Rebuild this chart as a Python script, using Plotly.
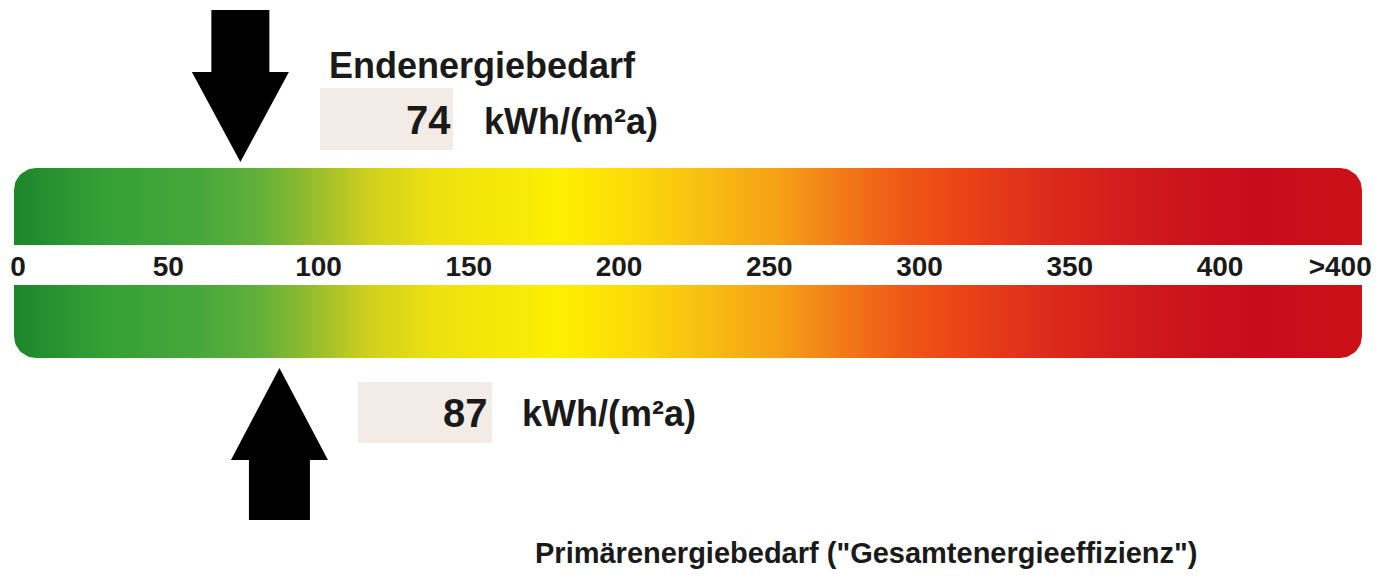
import numpy as np
import plotly.graph_objects as go

# ---------------- data ----------------
scale_ticks = [0, 50, 100, 150, 200, 250, 300, 350, 400, 440]
scale_labels = ["0", "50", "100", "150", "200", "250", "300", "350", "400", ">400"]
end_energy = 74          # Endenergiebedarf kWh/(m²a)
primary_energy = 87      # Primärenergiebedarf kWh/(m²a)
unit_label = "kWh/(m²a)"
end_title = "Endenergiebedarf"
primary_title = 'Primärenergiebedarf ("Gesamtenergieeffizienz")'

# colour ramp of the scale band (fraction along the band, colour)
ramp_pos = [0.0, 0.064, 0.138, 0.182, 0.22, 0.264, 0.309, 0.405, 0.464, 0.509,
            0.568, 0.613, 0.657, 0.702, 0.754, 0.806, 0.865, 0.917, 1.0]
ramp_col = ["#1c862c", "#33a035", "#47a83a", "#62b03a", "#95bc2e", "#d0d01e",
            "#ece010", "#fdef00", "#fbd80a", "#f8c012", "#f5a016", "#f27c18",
            "#ef5a16", "#eb4416", "#e0301a", "#d6201c", "#cc141c", "#c80c1c", "#cc1018"]

# ---------------- layout helpers ----------------
W, H = 1378, 579
X0_PX = 18.0      # pixel of value 0
K = 3.005         # pixels per kWh/(m²a)
x_range = [-X0_PX / K, (W - X0_PX) / K]


def px2v(px):
    return (px - X0_PX) / K


def rounded_band(px0, px1, y0, y1, r, top, bottom, n=16):
    pts = []
    t = lambda a, b: np.linspace(a, b, n)
    if top:
        for a in t(np.pi, 1.5 * np.pi):
            pts.append((px0 + r + r * np.cos(a), y0 + r + r * np.sin(a)))
        for a in t(1.5 * np.pi, 2 * np.pi):
            pts.append((px1 - r + r * np.cos(a), y0 + r + r * np.sin(a)))
    else:
        pts += [(px0, y0), (px1, y0)]
    if bottom:
        for a in t(0, 0.5 * np.pi):
            pts.append((px1 - r + r * np.cos(a), y1 - r + r * np.sin(a)))
        for a in t(0.5 * np.pi, np.pi):
            pts.append((px0 + r + r * np.cos(a), y1 - r + r * np.sin(a)))
    else:
        pts += [(px1, y1), (px0, y1)]
    pts.append(pts[0])
    xs = [px2v(p[0]) for p in pts]
    ys = [p[1] for p in pts]
    return xs, ys


colorscale = [[p, c] for p, c in zip(ramp_pos, ramp_col)]

fig = go.Figure()

# scale bands
for (y0, y1, top, bottom) in [(168, 245, True, False), (285, 358, False, True)]:
    xs, ys = rounded_band(14, 1362, y0, y1, 22, top, bottom)
    fig.add_trace(go.Scatter(
        x=xs, y=ys, mode="lines", fill="toself",
        line=dict(width=0, color="rgba(0,0,0,0)"),
        fillgradient=dict(type="horizontal", colorscale=colorscale),
        hoverinfo="skip", showlegend=False))

FONT = "Arial, Liberation Sans, sans-serif"

# tick labels
fig.add_trace(go.Scatter(
    x=scale_ticks, y=[269] * len(scale_ticks), mode="text", text=scale_labels,
    textposition="middle center",
    textfont=dict(family=FONT, size=28, color="#1a1a1a", weight="bold"),
    hoverinfo="skip", showlegend=False))


def arrow(value, down):
    if down:
        shape = [(-29, 10), (29, 10), (29, 72), (48.5, 72), (0, 162), (-48.5, 72), (-29, 72), (-29, 10)]
    else:
        shape = [(-30.5, 520), (30.5, 520), (30.5, 460), (48.5, 460), (0, 368), (-48.5, 460), (-30.5, 460), (-30.5, 520)]
    xs = [value + dx / K for dx, _ in shape]
    ys = [y for _, y in shape]
    return go.Scatter(x=xs, y=ys, mode="lines", fill="toself", fillcolor="black",
                      line=dict(width=0, color="black"), hoverinfo="skip", showlegend=False)


fig.add_trace(arrow(end_energy, True))
fig.add_trace(arrow(primary_energy, False))

# value boxes
box_fill = "#f3ebe5"
fig.add_shape(type="rect", xref="x", yref="y", x0=px2v(320), x1=px2v(453), y0=88, y1=150,
              fillcolor=box_fill, line=dict(width=0), layer="below")
fig.add_shape(type="rect", xref="x", yref="y", x0=px2v(358), x1=px2v(492), y0=382, y1=443,
              fillcolor=box_fill, line=dict(width=0), layer="below")


def ann(text, px, y, size, anchor):
    fig.add_annotation(x=px2v(px), y=y, xref="x", yref="y", text=text, showarrow=False,
                       xanchor=anchor, yanchor="middle",
                       font=dict(family=FONT, size=size, color="#1a1a1a", weight="bold"))


ann(end_title, 327, 65, 36, "left")
ann(str(end_energy), 453, 120, 40, "right")
ann(unit_label, 482, 121, 36, "left")
ann(str(primary_energy), 490, 413, 40, "right")
ann(unit_label, 520, 413, 36, "left")
ann(primary_title, 533, 553, 29, "left")

fig.update_layout(
    width=W, height=H, margin=dict(l=0, r=0, t=0, b=0),
    paper_bgcolor="white", plot_bgcolor="white",
    xaxis=dict(range=x_range, visible=False, fixedrange=True),
    yaxis=dict(range=[H, 0], visible=False, fixedrange=True),
    hovermode=False, showlegend=False,
)

fig.write_html("out.html", config={"displayModeBar": False},
               post_script="document.body.style.margin='0px';document.body.style.overflow='hidden';")
